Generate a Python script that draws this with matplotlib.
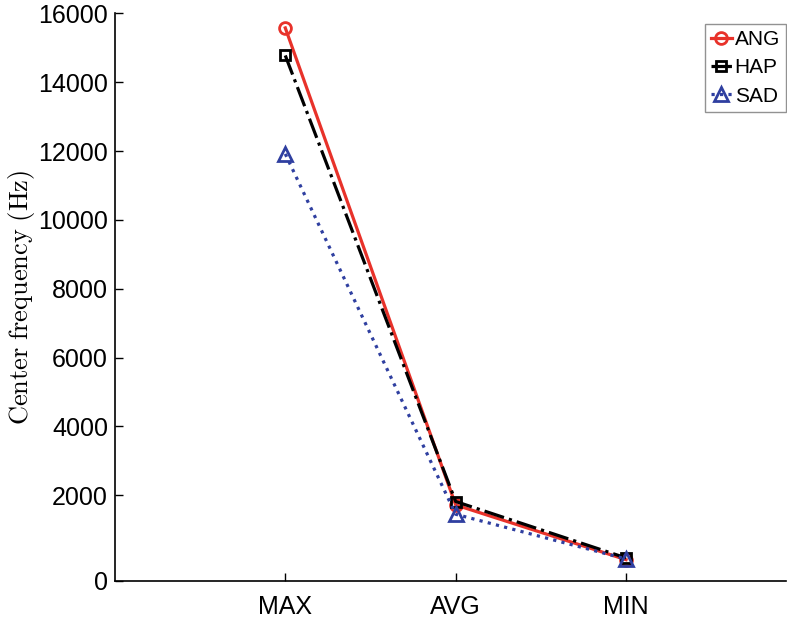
import numpy as np
import matplotlib.pyplot as plt

categories = ['MAX', 'AVG', 'MIN']
ang = [15580, 1720, 130]
hap = [14780, 1820, 180]
sad = [11920, 1450, 150]

# y axis: bottom tick is labelled 0 but sits slightly below zero
y_bottom = -480
ytick_vals = [y_bottom, 2000, 4000, 6000, 8000, 10000, 12000, 14000, 16000]
ytick_labels = ['0', '2000', '4000', '6000', '8000', '10000', '12000', '14000', '16000']

plt.rcParams['font.family'] = ['Liberation Sans', 'DejaVu Sans']
plt.rcParams['mathtext.fontset'] = 'cm'

fig = plt.figure(figsize=(7.87, 6.18), dpi=100)
ax = fig.add_axes([0.146, 0.0604, 0.853, 0.9178])

x = np.arange(1, len(categories) + 1)
ax.plot(x, ang, color='#e8322a', linestyle='-', linewidth=2.3, marker='o',
        markersize=8.5, markerfacecolor='none', markeredgewidth=2.0, label='ANG')
ax.plot(x, hap, color='black', linestyle='-.', linewidth=2.3, marker='s',
        markersize=7, markerfacecolor='none', markeredgewidth=2.0, label='HAP')
ax.plot(x, sad, color='#2f3fa0', linestyle=':', linewidth=2.3, marker='^',
        markersize=9.5, markerfacecolor='none', markeredgewidth=2.0, label='SAD')

ax.set_xlim(0, 3.94)
ax.set_ylim(y_bottom, 16000)
ax.set_xticks(x)
ax.set_xticklabels(categories)
ax.set_yticks(ytick_vals)
ax.set_yticklabels(ytick_labels)
ax.tick_params(direction='in', length=6, width=1, labelsize=18)
ax.tick_params(axis='y', pad=5)
ax.tick_params(axis='x', pad=10)

ax.spines['top'].set_visible(False)
ax.spines['right'].set_visible(False)
for s in ['left', 'bottom']:
    ax.spines[s].set_linewidth(1.2)

ax.set_ylabel(r'$\mathrm{Center\ frequency\ (Hz)}$', fontsize=19, labelpad=1)

leg = ax.legend(loc='upper right', fontsize=15, frameon=True, fancybox=False,
                handlelength=1.0, handletextpad=0.15, borderpad=0.3,
                labelspacing=0.45, borderaxespad=0.0, bbox_to_anchor=(1.0, 0.982))
leg.get_frame().set_edgecolor('#777777')
leg.get_frame().set_linewidth(1.0)

fig.savefig('out.png', dpi=100)
